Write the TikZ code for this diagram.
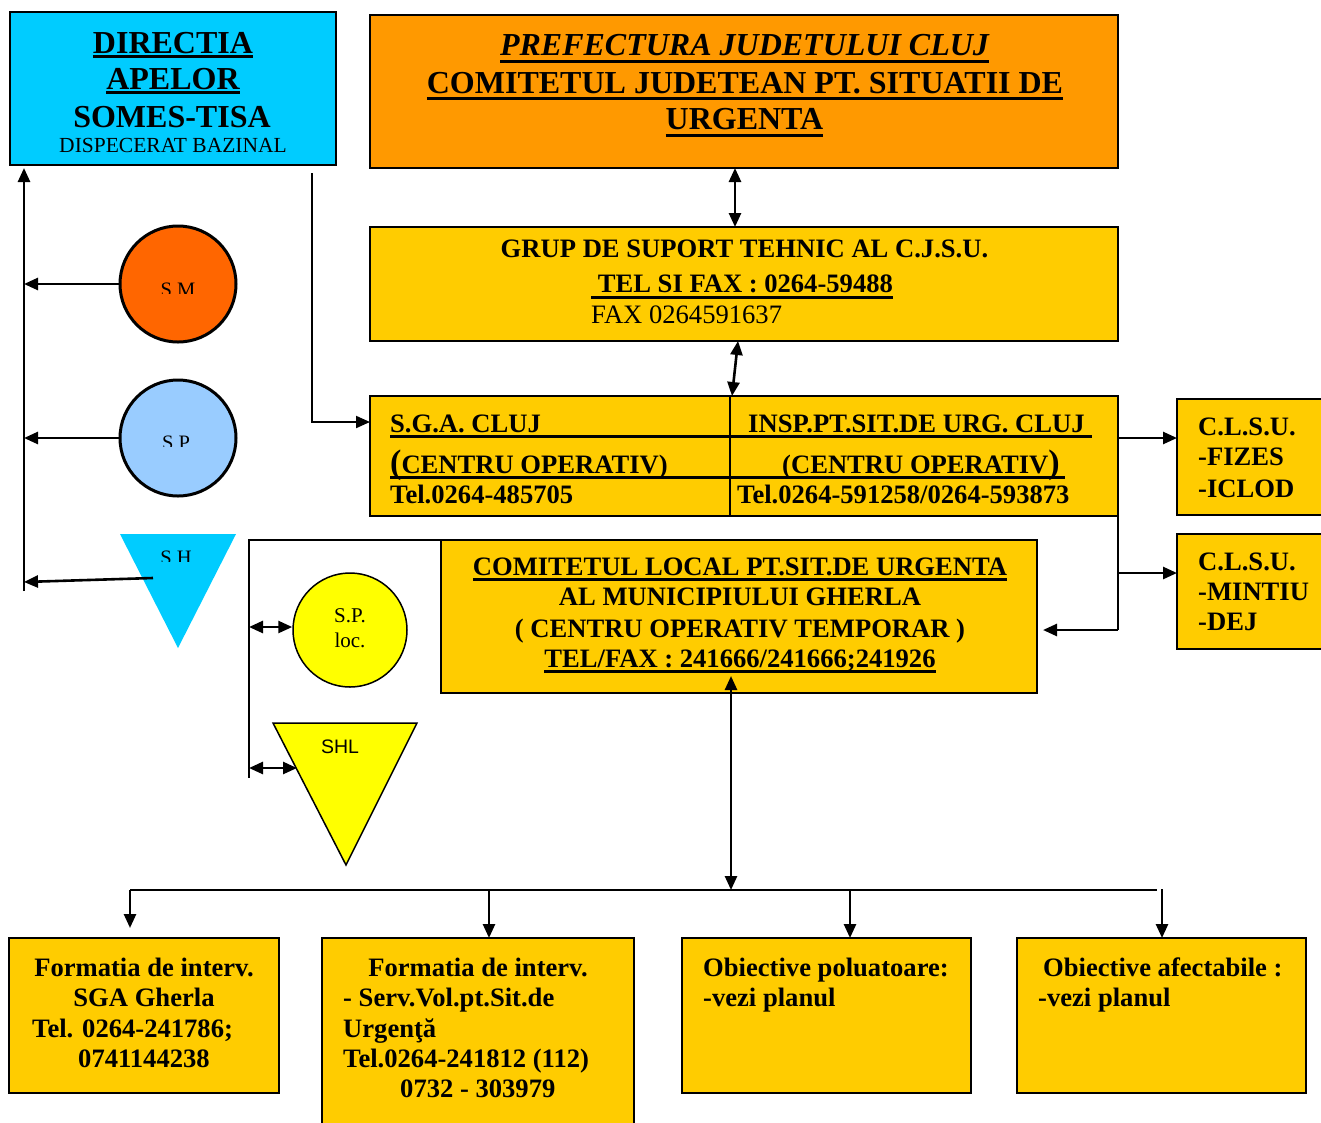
\documentclass[tikz,border=0pt]{standalone}
\usepackage{fontspec}
\setmainfont{Liberation Serif}
\newfontfamily\arialf{Liberation Sans}
\usetikzlibrary{arrows.meta}
\definecolor{cyanD}{HTML}{00CCFF}
\definecolor{orangeP}{HTML}{FF9900}
\definecolor{goldY}{HTML}{FFCC00}
\definecolor{smO}{HTML}{FF6600}
\definecolor{spB}{HTML}{99CCFF}
\definecolor{yelL}{HTML}{FFFF00}
\newsavebox\ulbox
\newcommand\myul[2][6.5pt]{\sbox\ulbox{#2}\rlap{\rule[-#1]{\wd\ulbox}{3pt}}\usebox\ulbox}
\newcommand\fbig{\fontsize{32}{32}\selectfont\bfseries}
\newcommand\fmid{\fontsize{26.6}{26.6}\selectfont\bfseries}
\newcommand\freg{\fontsize{26.6}{26.6}\selectfont}
\newcommand\fdisp{\fontsize{21.5}{21.5}\selectfont}
\newcommand\fsmall{\fontsize{20.5}{20.5}\selectfont}
\newcommand\floc{\fontsize{21}{21}\selectfont}
\newcommand\fsans{\arialf\fontsize{19.5}{19.5}\selectfont}
\tikzset{
 box/.style={draw=black, line width=2pt, rectangle, inner sep=0pt, outer sep=0pt, anchor=north west},
 arr/.style={line width=2.6pt, -{Triangle[length=14pt,width=12pt]}},
 dbl/.style={line width=2.6pt, {Triangle[length=14pt,width=12pt]}-{Triangle[length=14pt,width=12pt]}},
 conn/.style={line width=2.6pt},
 txt/.style={inner sep=0pt, anchor=base},
 txtl/.style={inner sep=0pt, anchor=base west},
}
\begin{document}
\begin{tikzpicture}[x=1pt,y=-1pt]
\useasboundingbox (0,0) rectangle (1321,1122);
\clip (0,0) rectangle (1321,1122);
% boxes
\node[box,fill=cyanD,minimum width=326pt,minimum height=153pt] (dir) at (10,12) {};
\node[box,fill=orangeP,minimum width=748pt,minimum height=153pt] (pref) at (370,15) {};
\node[box,fill=goldY,minimum width=748pt,minimum height=114pt] (gsup) at (370,227) {};
\node[box,fill=goldY,minimum width=748pt,minimum height=120pt] (sga) at (370,396) {};
\node[box,fill=goldY,minimum width=170pt,minimum height=116pt] (clsua) at (1177,399) {};
\node[box,fill=goldY,minimum width=170pt,minimum height=115pt] (clsub) at (1177,534) {};
\node[box,fill=goldY,minimum width=596pt,minimum height=153pt] (local) at (441,540) {};
\node[box,fill=goldY,minimum width=270pt,minimum height=155pt] (bA) at (9,938) {};
\node[box,fill=goldY,minimum width=312pt,minimum height=200pt] (bB) at (322,938) {};
\node[box,fill=goldY,minimum width=289pt,minimum height=155pt] (bC) at (682,938) {};
\node[box,fill=goldY,minimum width=289pt,minimum height=155pt] (bD) at (1017,938) {};
% SGA inner lines
\draw[line width=2pt] ([xshift=-14pt]sga.north) -- ([xshift=-14pt]sga.south);
\draw[line width=3pt] (390,436) -- (1092,436);
\draw[line width=3pt] (390,477) -- (1065,477);
% circles and triangles
\node[circle,draw,line width=3pt,fill=smO,minimum size=116pt,inner sep=0pt] (sm) at (178,284) {};
\node[circle,draw,line width=3pt,fill=spB,minimum size=116pt,inner sep=0pt] (sp) at (178,438) {};
\fill[cyanD] (120,534) -- (236,534) -- (178,648) -- cycle;
\node[circle,draw,line width=1.5pt,fill=yelL,minimum size=114pt,inner sep=0pt] (spl) at (350,630) {};
\filldraw[fill=yelL,line width=1.5pt] (273,723) -- (417,723) -- (346,865) -- cycle;
% connectors
\draw[dbl] ([xshift=-9pt]pref.south) -- ([xshift=-9pt]gsup.north);
\draw[dbl] ([xshift=-6pt]gsup.south) -- ([xshift=-12pt]sga.north);
\draw[arr,line width=2pt] ([xshift=139pt,yshift=-8pt]dir.south) |- ([yshift=34pt]sga.west);
\coordinate (lbT) at (24,168);
\coordinate (lbB) at (24,591);
\draw[arr] (lbB) -- (lbT);
\draw[arr] (sm.west) -- (sm.west -| lbT);
\draw[arr] (sp.west) -- (sp.west -| lbT);
\coordinate (shp) at (153,578);
\coordinate (shq) at (24,582);
\draw[arr] (shp) -- (shq);
\coordinate (ja) at (1118,438);
\coordinate (jb) at (1118,573);
\coordinate (jc) at (1118,630);
\draw[arr] (ja) -- (ja -| clsua.west);
\draw[conn] (jc |- sga.south) -- (jc);
\draw[arr,shorten >=6pt] (jc) -- (jc -| local.east);
\draw[arr] (jb) -- (jb -| clsub.west);
\coordinate (lc1) at (249,540);
\coordinate (lc2) at (249,778);
\draw[conn] (local.north west) -- (lc1) -- (lc2);
\coordinate (lc3) at (249,627);
\draw[dbl] (lc3) -- (lc3 -| spl.west);
\coordinate (lc4) at (249,768);
\coordinate (shlp) at (297,768);
\draw[dbl] (lc4) -- (shlp);
\coordinate (bm) at (731,890);
\draw[dbl] (bm) -- ([xshift=-8pt,yshift=17pt]local.south);
\coordinate (bL) at (130,890);
\coordinate (bR) at (1157,890);
\draw[conn] (bL) -- (bR);
\draw[arr,shorten >=10pt] (bL) -- (bL |- bA.north);
\coordinate (bj2) at (489,890);
\draw[arr] (bj2) -- (bj2 |- bB.north);
\coordinate (bj3) at (850,890);
\draw[arr] (bj3) -- (bj3 |- bC.north);
\coordinate (bj4) at (1162,889);
\draw[arr] (bj4) -- (bj4 |- bD.north);
% texts
\node[txt,font=\fbig] (t1) at (173,53) {\myul[5pt]{DIRECTIA}};
\node[txt,font=\fbig] (t2) at (173,89) {\myul[5pt]{APELOR}};
\node[txt,font=\fbig] (t3) at (172,127) {SOMES-TISA};
\node[txt,font=\fdisp] (t4) at (173,152) {DISPECERAT BAZINAL};
\node[txt,font=\fbig] (t5) at (744.5,55) {\myul[7.5pt]{\itshape PREFECTURA JUDETULUI CLUJ}};
\node[txt,font=\fbig] (t6) at (745,93) {\myul[7pt]{COMITETUL JUDETEAN PT. SITUATII DE}};
\node[txt,font=\fbig] (t7) at (744.5,129) {\myul[7.5pt]{URGENTA}};
\node[txt,font=\fmid] (t8) at (744.5,257) {GRUP DE SUPORT TEHNIC AL C.J.S.U.};
\node[txtl,font=\fmid] (t9) at (591,292) {\myul{\ TEL SI FAX : 0264-59488}};
\node[txtl,font=\freg] (t10) at (591,323) {FAX 0264591637};
\node[txtl,font=\fmid] (t11) at (390,432) {S.G.A. CLUJ};
\node[txtl,font=\fmid] (t12) at (748,432) {INSP.PT.SIT.DE URG. CLUJ};
\node[txtl,font=\fmid] (t13) at (390,473) {{\fontsize{34}{34}\selectfont(}CENTRU OPERATIV)};
\node[txtl,font=\fmid] (t14) at (782,473) {(CENTRU OPERATIV{\fontsize{34}{34}\selectfont)}};
\node[txtl,font=\fmid] (t15) at (390,503) {Tel.0264-485705};
\node[txtl,font=\fmid] (t16) at (737,503) {Tel.0264-591258/0264-593873};
\node[txtl,font=\fmid] (t17) at (1198,435) {C.L.S.U.};
\node[txtl,font=\fmid] (t18) at (1198,465) {-FIZES};
\node[txtl,font=\fmid] (t19) at (1198,497) {-ICLOD};
\node[txtl,font=\fmid] (t20) at (1198,570) {C.L.S.U.};
\node[txtl,font=\fmid] (t21) at (1198,600) {-MINTIU};
\node[txtl,font=\fmid] (t22) at (1198,630) {-DEJ};
\node[txt,font=\fmid] (t23) at (740,575) {\myul[5.5pt]{COMITETUL LOCAL PT.SIT.DE URGENTA}};
\node[txt,font=\fmid] (t24) at (740,605) {AL MUNICIPIULUI GHERLA};
\node[txt,font=\fmid] (t25) at (740,637) {( CENTRU OPERATIV TEMPORAR )};
\node[txt,font=\fmid] (t26) at (740,667) {\myul[5.5pt]{TEL/FAX : 241666/241666;241926}};
\node[txt,font=\fmid] (t27) at (144,976) {Formatia de interv.};
\node[txt,font=\fmid] (t28) at (144,1006) {SGA Gherla};
\node[txtl,font=\fmid] (t29) at (32,1037) {Tel. 0264-241786;};
\node[txtl,font=\fmid] (t30) at (78,1067) {0741144238};
\node[txt,font=\fmid] (t31) at (478,976) {Formatia de interv.};
\node[txtl,font=\fmid] (t32) at (343,1006) {- Serv.Vol.pt.Sit.de};
\node[txtl,font=\fmid] (t33) at (343,1037) {Urgenţă};
\node[txtl,font=\fmid] (t34) at (343,1067) {Tel.0264-241812 (112)};
\node[txtl,font=\fmid] (t35) at (400,1097) {0732 - 303979};
\node[txtl,font=\fmid] (t36) at (703,976) {Obiective poluatoare:};
\node[txtl,font=\fmid] (t37) at (703,1006) {-vezi planul};
\node[txtl,font=\fmid] (t38) at (1043,976) {Obiective afectabile :};
\node[txtl,font=\fmid] (t39) at (1038,1006) {-vezi planul};
\node[txt,font=\floc] (t40) at (350,622) {S.P.};
\node[txt,font=\floc] (t41) at (350,647) {loc.};
\node[txt,font=\fsans] (t42) at (340,753) {SHL};
\begin{scope}
\clip (140,270) rectangle (216,293);
\node[txt,font=\fsmall] (t43) at (178,296) {S M};
\end{scope}
\begin{scope}
\clip (140,424) rectangle (216,446);
\node[txt,font=\fsmall] (t44) at (176,449) {S P};
\end{scope}
\begin{scope}
\clip (140,540) rectangle (216,561);
\node[txt,font=\fsmall] (t45) at (176,564) {S H};
\end{scope}
\end{tikzpicture}
\end{document}
